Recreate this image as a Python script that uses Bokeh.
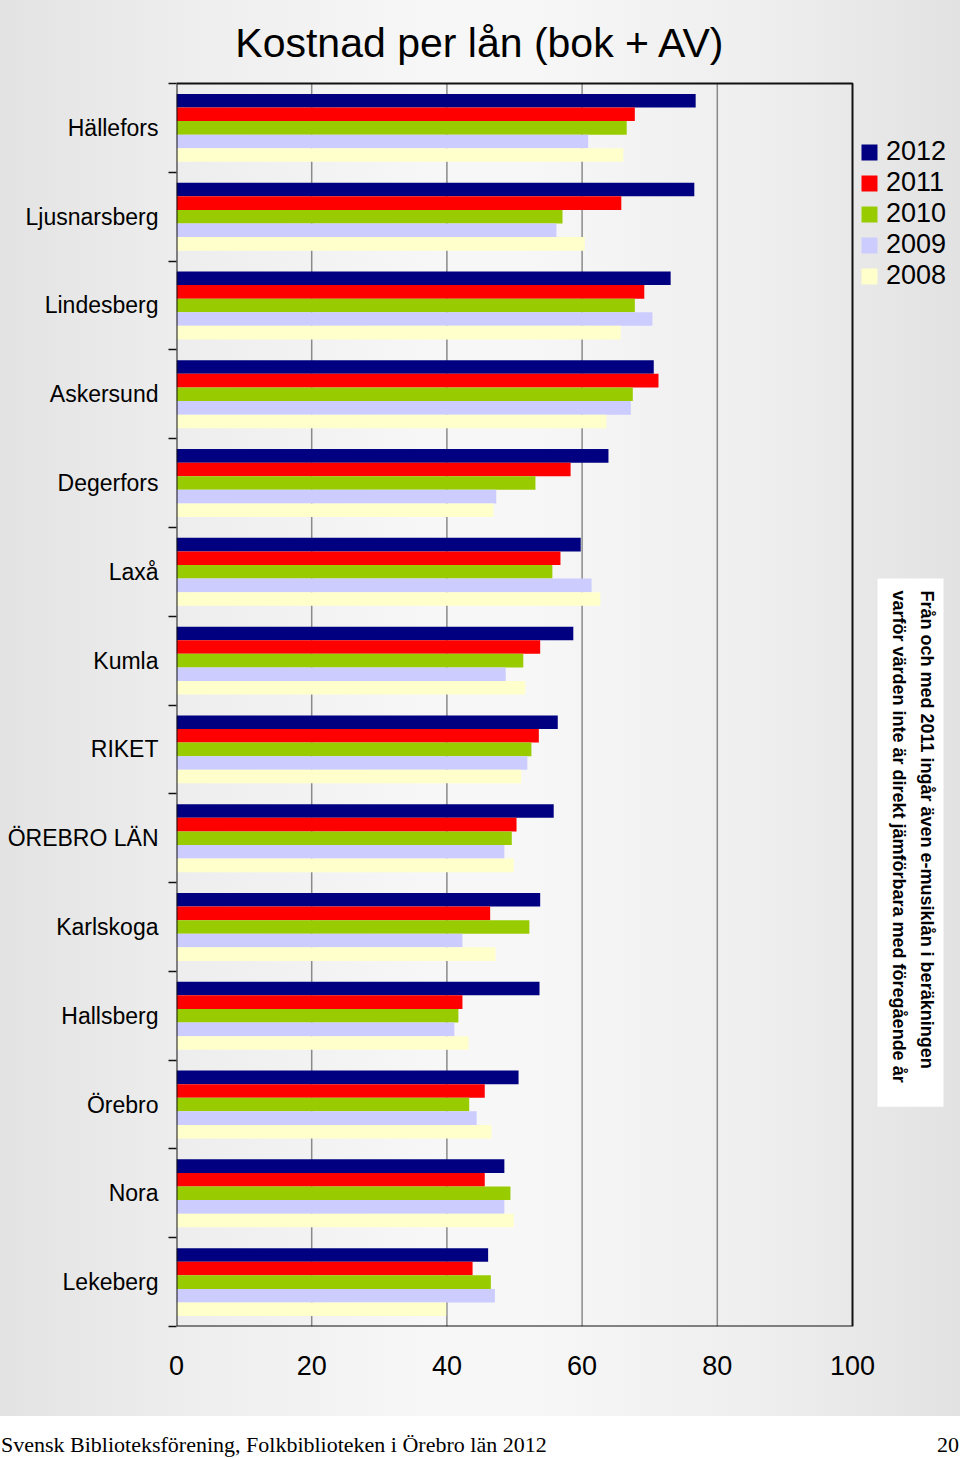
import numpy as np
from bokeh.plotting import figure
from bokeh.models import (ColumnDataSource, FixedTicker, Range1d, Legend, LegendItem,
                          Label, Div, CustomJSTickFormatter, BoxAnnotation)
from bokeh.transform import dodge
from bokeh.layouts import column
from bokeh.embed import file_html
from bokeh.resources import INLINE

# ---------------- data ----------------
categories = ["Hällefors", "Ljusnarsberg", "Lindesberg", "Askersund", "Degerfors", "Laxå",
              "Kumla", "RIKET", "ÖREBRO LÄN", "Karlskoga", "Hallsberg", "Örebro", "Nora", "Lekeberg"]
years = ["2012", "2011", "2010", "2009", "2008"]
v2012 = [76.8, 76.6, 73.1, 70.6, 63.9, 59.8, 58.7, 56.4, 55.8, 53.8, 53.7, 50.6, 48.5, 46.1]
v2011 = [67.8, 65.8, 69.2, 71.3, 58.3, 56.8, 53.8, 53.6, 50.3, 46.4, 42.3, 45.6, 45.6, 43.8]
v2010 = [66.6, 57.1, 67.8, 67.5, 53.1, 55.6, 51.3, 52.5, 49.6, 52.2, 41.7, 43.3, 49.4, 46.5]
v2009 = [60.9, 56.2, 70.4, 67.2, 47.3, 61.4, 48.7, 51.9, 48.5, 42.3, 41.1, 44.4, 48.5, 47.1]
v2008 = [66.1, 60.4, 65.7, 63.6, 46.9, 62.7, 51.6, 51.0, 49.9, 47.2, 43.2, 46.6, 49.9, 39.9]
x_ticks = [0, 20, 40, 60, 80, 100]
title_text = "Kostnad per lån (bok + AV)"
note_text = ("Från och med 2011 ingår även e-musiklån i beräkningen\n"
             "varför värden inte är direkt jämförbara med föregående år")
footer_left = "Svensk Biblioteksförening, Folkbiblioteken i Örebro län 2012"
footer_right = "20"

colors = ["#000080", "#ff0000", "#99cc00", "#ccccff", "#ffffcc"]
n = len(categories)
FONT = "Liberation Sans"

# layout geometry (pixels)
W, H = 960, 1416
LEFT, BOTTOM = 176, 90          # plot area left edge / space below plot area
PLOT_W, PLOT_H = 676, 1243      # plot area size
frame_w = W - LEFT
frame_h = H - BOTTOM
x_end = 100 * frame_w / PLOT_W
y_end = -0.5 + n * frame_h / PLOT_H

src = ColumnDataSource(dict(
    cat=categories,
    y=list(range(n - 1, -1, -1)),
    **{"2012": v2012, "2011": v2011, "2010": v2010, "2009": v2009, "2008": v2008}
))

p = figure(width=W, height=H, x_range=Range1d(0, x_end), y_range=Range1d(-0.5, y_end),
           output_backend="svg", toolbar_location=None,
           min_border_left=LEFT, min_border_right=0, min_border_top=0, min_border_bottom=BOTTOM)
p.background_fill_alpha = 0
p.border_fill_alpha = 0
p.outline_line_color = None
p.styles = {"background": "linear-gradient(to right, #e3e3e3 0%, #eeeeee 20%, #f7f7f7 45%, "
                          "#f7f7f7 55%, #eeeeee 80%, #e2e2e2 100%)"}

# vertical grid lines inside the plot area only
p.segment(x0=x_ticks[1:-1], x1=x_ticks[1:-1], y0=-0.5, y1=n - 0.5,
          line_color="#8a8a8a", line_width=1.5)

bar_h = 0.153
offsets = [2 * bar_h, bar_h, 0, -bar_h, -2 * bar_h]
renderers = []
for yr, col, off in zip(years, colors, offsets):
    r = p.hbar(y=dodge("y", off, range=p.y_range), left=0, right=yr, height=bar_h,
               source=src, fill_color=col, line_color=None)
    renderers.append(r)

# plot-area border
p.add_layout(BoxAnnotation(left=0, right=100, bottom=-0.5, top=n - 0.5, level="overlay",
                           fill_alpha=0, line_color="#111111", line_alpha=1, line_width=2))

# y axis
p.yaxis.ticker = FixedTicker(ticks=list(range(n)), minor_ticks=[k + 0.5 for k in range(-1, n)])
p.yaxis.formatter = CustomJSTickFormatter(args=dict(names=categories[::-1]),
                                          code="const i = Math.round(tick); return (i >= 0 && i < names.length) ? names[i] : '';")
p.yaxis.major_tick_line_color = None
p.yaxis.major_tick_out = 0
p.yaxis.major_tick_in = 0
p.yaxis.minor_tick_out = 8
p.yaxis.minor_tick_in = 0
p.yaxis.minor_tick_line_color = "#111111"
p.yaxis.minor_tick_line_width = 1.5
p.yaxis.axis_line_color = None
p.yaxis.major_label_standoff = 10
p.yaxis.major_label_text_font = FONT
p.yaxis.major_label_text_font_size = "23px"
p.yaxis.major_label_text_color = "black"

# x axis
p.xaxis.ticker = FixedTicker(ticks=x_ticks)
p.xaxis.major_tick_line_color = None
p.xaxis.minor_tick_line_color = None
p.xaxis.major_tick_out = 0
p.xaxis.major_tick_in = 0
p.xaxis.axis_line_color = None
p.xaxis.major_label_standoff = 29
p.xaxis.major_label_text_font = FONT
p.xaxis.major_label_text_font_size = "27px"
p.xaxis.major_label_text_color = "black"

p.xgrid.visible = False
p.ygrid.visible = False

legend = Legend(items=[LegendItem(label=yr, renderers=[r]) for yr, r in zip(years, renderers)],
                location=(683, 1035), padding=0, spacing=0, margin=0,
                glyph_width=20, glyph_height=20, label_standoff=7,
                label_text_font=FONT, label_text_font_size="27px", label_text_color="black",
                border_line_color=None, background_fill_alpha=0)
p.add_layout(legend)

p.add_layout(Label(x=44.97, y=13.96, text=title_text, text_align="center", text_baseline="middle",
                   text_font=FONT, text_font_size="41px", text_color="black"))

p.add_layout(Label(x=113.46, y=7.925, text=note_text, angle=-np.pi / 2,
                   text_align="left", text_baseline="top", text_font=FONT,
                   text_font_size="18px", text_font_style="bold", text_line_height=1.4,
                   text_color="black", background_fill_color="white",
                   padding=dict(left=12, right=24, top=6, bottom=12)))

footer = Div(text=(f'<div style="display:flex;justify-content:space-between;width:958px;'
                   f'font-family:\'Liberation Serif\';font-size:22px;line-height:25px;color:black;'
                   f'padding-top:11px;margin-left:-4px;">'
                   f'<span>{footer_left}</span><span>{footer_right}</span></div>'),
             width=W, height=44, styles={"background-color": "white"})

layout = column(p, footer, spacing=0)
open("out.html", "w").write(file_html(layout, INLINE))
